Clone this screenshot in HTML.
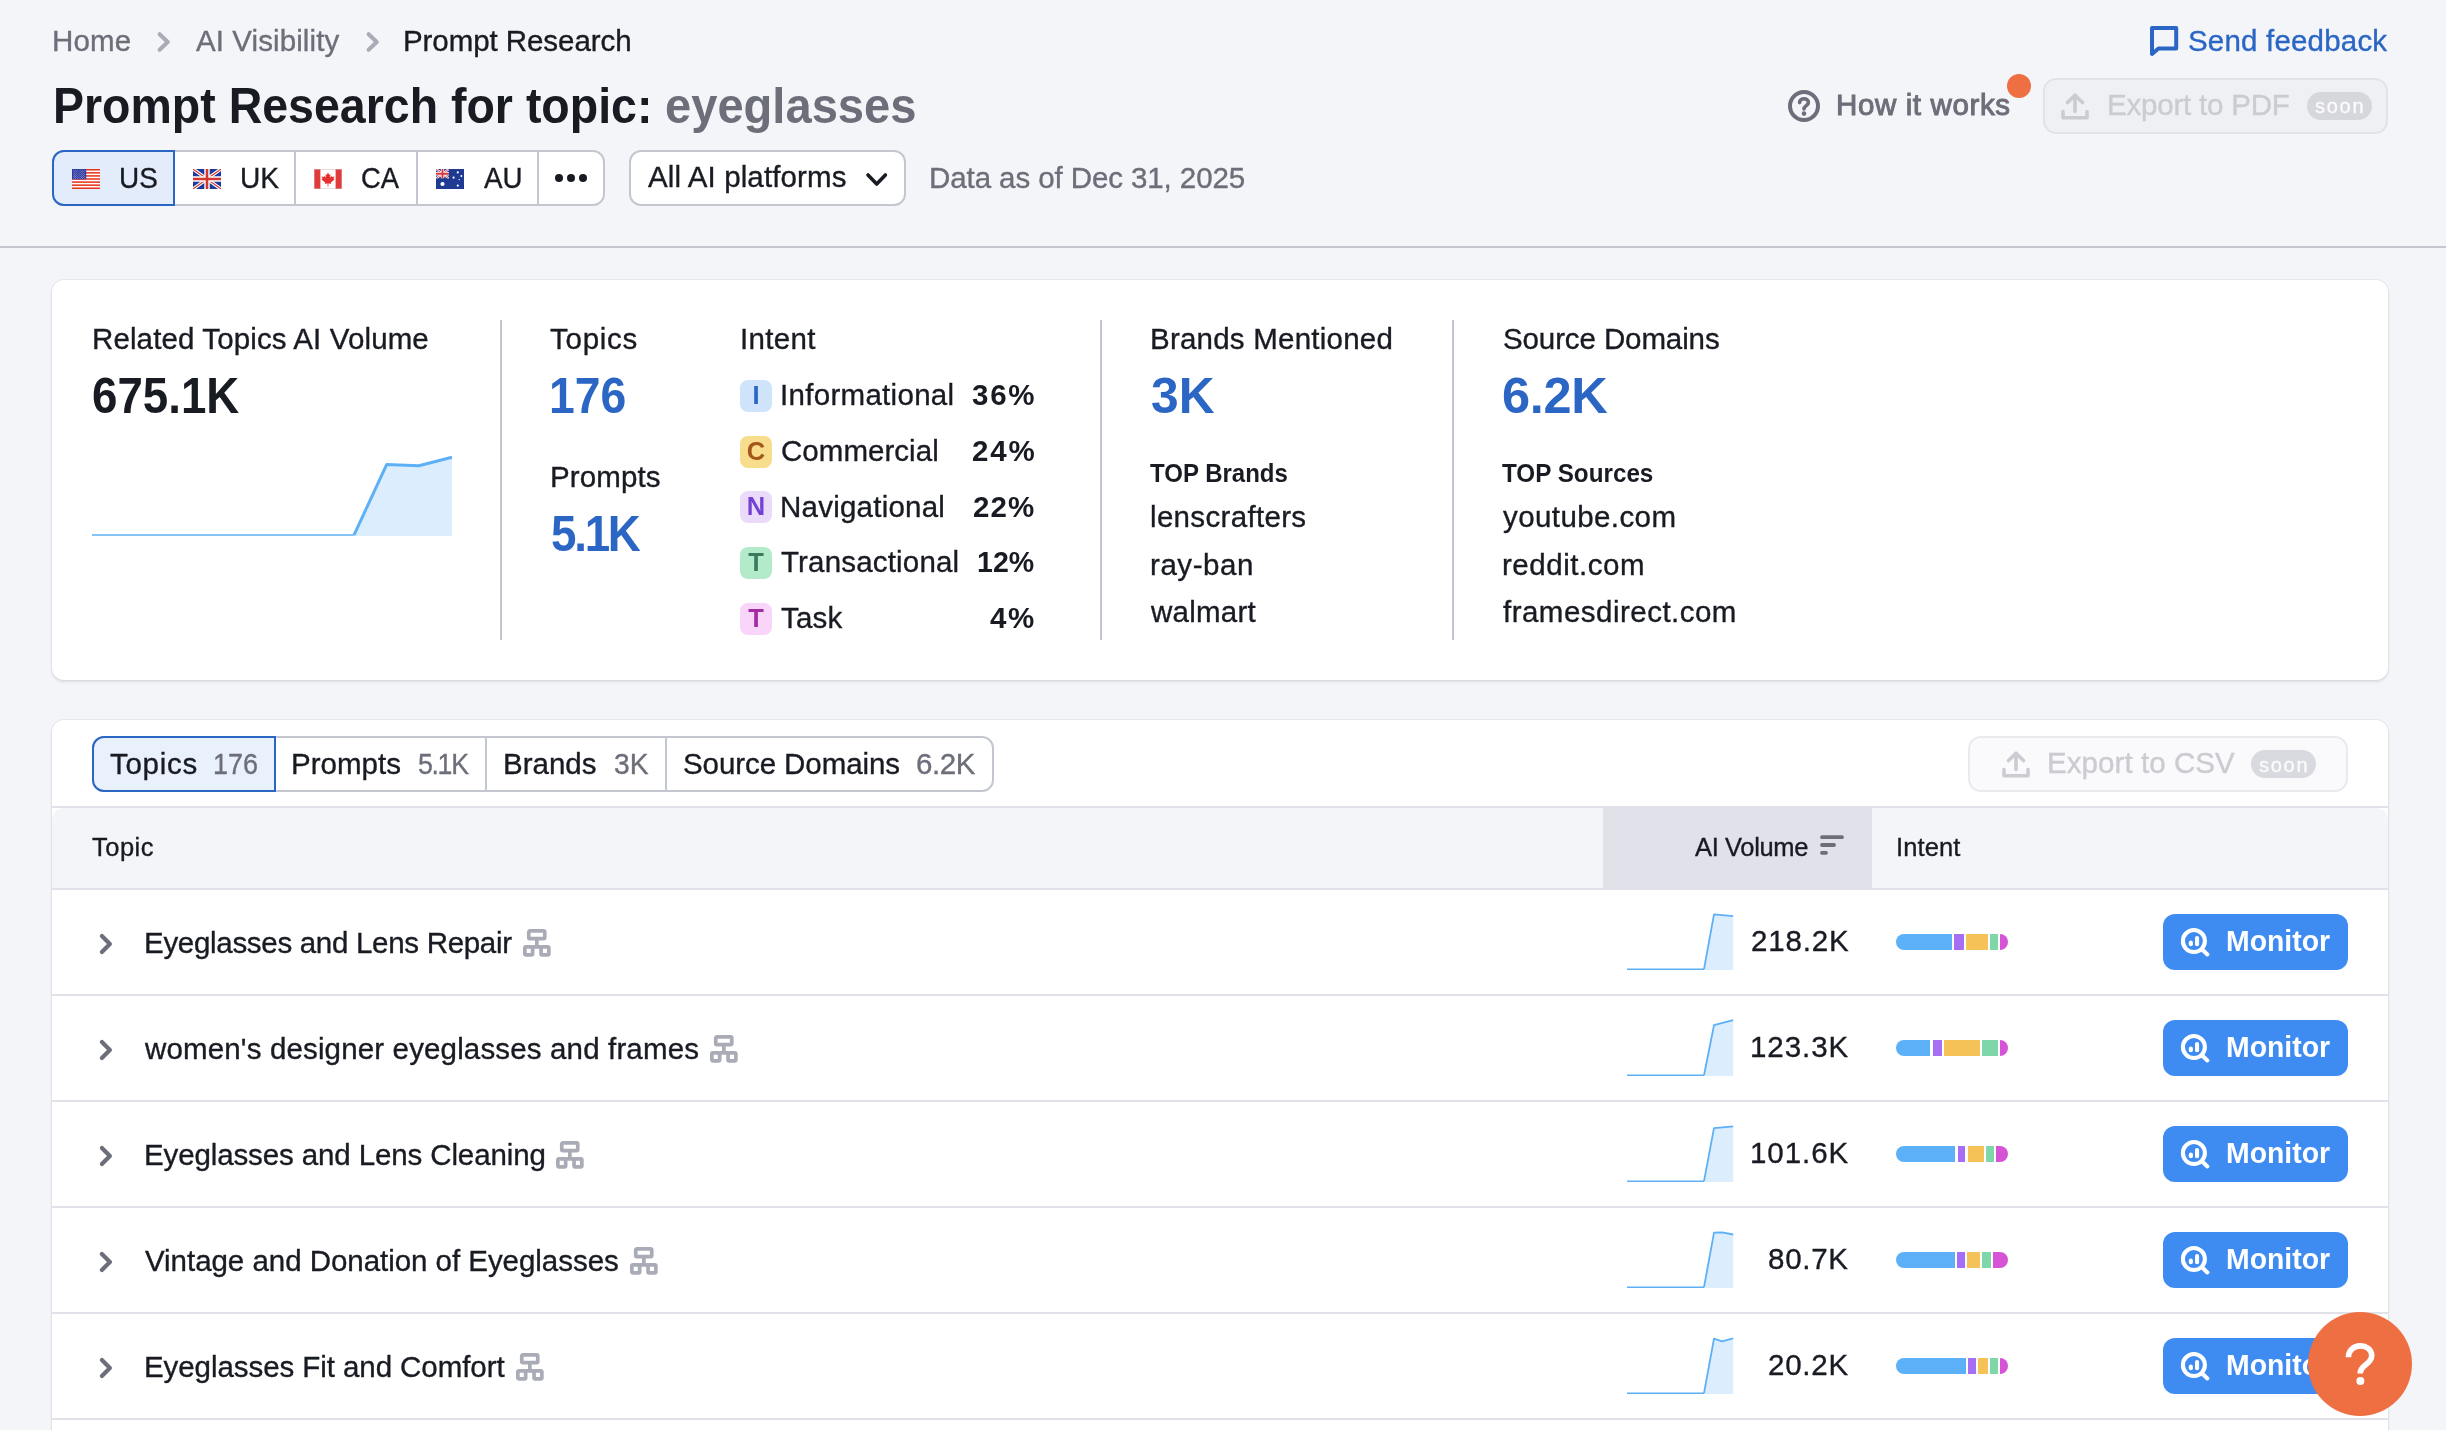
<!DOCTYPE html>
<html><head><meta charset="utf-8"><title>Prompt Research</title>
<style>
*{box-sizing:border-box;margin:0;padding:0}
html,body{width:2446px;height:1430px;overflow:hidden;background:#f4f5f9;font-family:"Liberation Sans",sans-serif;color:#191b23}
.t{position:absolute;white-space:pre}
.b{font-weight:bold}
.a{position:absolute}
.card{position:absolute;left:52px;width:2336px;background:#fff;border-radius:12px;box-shadow:0 0 0 1px rgba(200,203,215,.35),0 2px 3px rgba(25,27,35,.10)}
.vd{position:absolute;width:2px;background:#c4c7cf;top:320px;height:320px}
.ib{position:absolute;left:740px;width:32px;height:32px;border-radius:8px;font-size:25.5px;font-weight:bold;text-align:center;line-height:31px}
.rb{position:absolute;left:52px;width:2336px;height:2px;background:#e0e1e9}
.mon{position:absolute;left:2163px;width:185px;height:56px;background:#3e8cf1;border-radius:12px}
.sg{position:absolute;height:16px}
svg{position:absolute;overflow:visible}
</style></head><body>
<div style="position:absolute;left:0;top:0;width:2446px;height:1430px;overflow:hidden;will-change:transform">
<div class="a" style="left:0;top:0;width:2446px;height:246px;background:#f4f5f9"></div>
<div class="a" style="left:0;top:246px;width:2446px;height:2px;background:#c4c7cf"></div>
<svg style="left:156.5px;top:32px" width="14" height="20" viewBox="0 0 14 20"><path d="M2.6 2.2 L10.8 10 L2.6 17.8" fill="none" stroke="#a9abb6" stroke-width="4" stroke-linecap="round" stroke-linejoin="round"/></svg>
<svg style="left:366px;top:32px" width="14" height="20" viewBox="0 0 14 20"><path d="M2.6 2.2 L10.8 10 L2.6 17.8" fill="none" stroke="#a9abb6" stroke-width="4" stroke-linecap="round" stroke-linejoin="round"/></svg>
<svg style="left:2150px;top:26px" width="29" height="31" viewBox="0 0 29 31"><path d="M2 2 H26.2 V22.5 H8.5 L2 28 Z" fill="none" stroke="#2b66c4" stroke-width="4" stroke-linejoin="round"/></svg>
<svg style="left:1787px;top:89px" width="34" height="34" viewBox="0 0 34 34"><circle cx="17" cy="17" r="14" fill="none" stroke="#6c6e79" stroke-width="4"/><path d="M12.6 13.6 C12.6 8.6 21.4 8.6 21.4 13.4 C21.4 16.6 17 16.6 17 20" fill="none" stroke="#6c6e79" stroke-width="3.6" stroke-linecap="round"/><circle cx="17" cy="24.6" r="2.3" fill="#6c6e79"/></svg>
<div class="a" style="left:2007px;top:74px;width:24px;height:24px;border-radius:12px;background:#ee6f42"></div>
<div class="a" style="left:2043px;top:78px;width:345px;height:56px;border:2px solid #e2e3e9;background:#eff0f4;border-radius:13px"></div>
<svg style="left:2061px;top:93px" width="28" height="27" viewBox="0 0 28 27"><path d="M14 18.5 V3 M6.5 9.5 L14 2.2 L21.5 9.5 M2 18.5 V24.8 H26 V18.5" fill="none" stroke="#cbccd2" stroke-width="3.6" stroke-linejoin="round" stroke-linecap="round"/></svg>
<div class="a" style="left:2307px;top:92px;width:65px;height:28px;border-radius:14px;background:#d6d7dd"></div>
<div class="a" style="left:52px;top:150px;width:553px;height:56px;border:2px solid #c4c7cf;background:#fff;border-radius:12px"></div>
<div class="a" style="left:294px;top:150px;width:2px;height:56px;background:#c4c7cf"></div>
<div class="a" style="left:416px;top:150px;width:2px;height:56px;background:#c4c7cf"></div>
<div class="a" style="left:537px;top:150px;width:2px;height:56px;background:#c4c7cf"></div>
<div class="a" style="left:52px;top:150px;width:123px;height:56px;border:2px solid #2b66c4;background:#e3ecfa;border-radius:12px 0 0 12px"></div>
<div class="a" style="left:555px;top:174px;width:8px;height:8px;border-radius:4px;background:#191b23"></div>
<div class="a" style="left:567px;top:174px;width:8px;height:8px;border-radius:4px;background:#191b23"></div>
<div class="a" style="left:579px;top:174px;width:8px;height:8px;border-radius:4px;background:#191b23"></div>
<svg style="left:72px;top:169px" width="28" height="20" viewBox="0 0 28 20"><rect width="28" height="20" fill="#fff"/><g fill="#e8351d"><rect y="0.00" width="28" height="1.54"/><rect y="3.08" width="28" height="1.54"/><rect y="6.15" width="28" height="1.54"/><rect y="9.23" width="28" height="1.54"/><rect y="12.31" width="28" height="1.54"/><rect y="15.38" width="28" height="1.54"/><rect y="18.46" width="28" height="1.54"/></g><rect width="14.2" height="10.3" fill="#2c379e"/><g fill="#dfe2f6"><circle cx="1.30" cy="1.05" r=".42"/><circle cx="3.60" cy="1.05" r=".42"/><circle cx="5.90" cy="1.05" r=".42"/><circle cx="8.20" cy="1.05" r=".42"/><circle cx="10.50" cy="1.05" r=".42"/><circle cx="12.80" cy="1.05" r=".42"/><circle cx="2.45" cy="2.08" r=".42"/><circle cx="4.75" cy="2.08" r=".42"/><circle cx="7.05" cy="2.08" r=".42"/><circle cx="9.35" cy="2.08" r=".42"/><circle cx="11.65" cy="2.08" r=".42"/><circle cx="1.30" cy="3.11" r=".42"/><circle cx="3.60" cy="3.11" r=".42"/><circle cx="5.90" cy="3.11" r=".42"/><circle cx="8.20" cy="3.11" r=".42"/><circle cx="10.50" cy="3.11" r=".42"/><circle cx="12.80" cy="3.11" r=".42"/><circle cx="2.45" cy="4.14" r=".42"/><circle cx="4.75" cy="4.14" r=".42"/><circle cx="7.05" cy="4.14" r=".42"/><circle cx="9.35" cy="4.14" r=".42"/><circle cx="11.65" cy="4.14" r=".42"/><circle cx="1.30" cy="5.17" r=".42"/><circle cx="3.60" cy="5.17" r=".42"/><circle cx="5.90" cy="5.17" r=".42"/><circle cx="8.20" cy="5.17" r=".42"/><circle cx="10.50" cy="5.17" r=".42"/><circle cx="12.80" cy="5.17" r=".42"/><circle cx="2.45" cy="6.20" r=".42"/><circle cx="4.75" cy="6.20" r=".42"/><circle cx="7.05" cy="6.20" r=".42"/><circle cx="9.35" cy="6.20" r=".42"/><circle cx="11.65" cy="6.20" r=".42"/><circle cx="1.30" cy="7.23" r=".42"/><circle cx="3.60" cy="7.23" r=".42"/><circle cx="5.90" cy="7.23" r=".42"/><circle cx="8.20" cy="7.23" r=".42"/><circle cx="10.50" cy="7.23" r=".42"/><circle cx="12.80" cy="7.23" r=".42"/><circle cx="2.45" cy="8.26" r=".42"/><circle cx="4.75" cy="8.26" r=".42"/><circle cx="7.05" cy="8.26" r=".42"/><circle cx="9.35" cy="8.26" r=".42"/><circle cx="11.65" cy="8.26" r=".42"/><circle cx="1.30" cy="9.29" r=".42"/><circle cx="3.60" cy="9.29" r=".42"/><circle cx="5.90" cy="9.29" r=".42"/><circle cx="8.20" cy="9.29" r=".42"/><circle cx="10.50" cy="9.29" r=".42"/><circle cx="12.80" cy="9.29" r=".42"/></g></svg>
<svg style="left:193px;top:169px" width="28" height="20" viewBox="0 0 28 20"><clipPath id="uk"><rect width="28" height="20"/></clipPath><g clip-path="url(#uk)"><rect width="28" height="20" fill="#1b3a9c"/><path d="M0 0 L28 20 M28 0 L0 20" stroke="#fff" stroke-width="3.4"/><path d="M0 0 L28 20 M28 0 L0 20" stroke="#d5352f" stroke-width="1.1"/><path d="M14 0 V20 M0 10 H28" stroke="#fff" stroke-width="5.4"/><path d="M14 0 V20 M0 10 H28" stroke="#d5352f" stroke-width="2.6"/></g></svg>
<svg style="left:314px;top:169px" width="28" height="20" viewBox="0 0 28 20"><rect width="28" height="20" fill="#fff"/><rect width="6.4" height="20" fill="#e03a3a"/><rect x="21.6" width="6.4" height="20" fill="#e03a3a"/><rect x=".25" y=".25" width="27.5" height="19.5" fill="none" stroke="#d9b9b9" stroke-width=".5"/><path d="M14 3.4 L15.2 5.8 L16.5 5.2 L16 8.6 L17.8 7 L18.2 8 L20.4 7.6 L19.6 10 L20.5 10.6 L16.8 13.6 L17.2 14.8 L14.4 14.4 L14.4 17.4 H13.6 L13.6 14.4 L10.8 14.8 L11.2 13.6 L7.5 10.6 L8.4 10 L7.6 7.6 L9.8 8 L10.2 7 L12 8.6 L11.5 5.2 L12.8 5.8 Z" fill="#e6302f"/></svg>
<svg style="left:436px;top:169px" width="28" height="20" viewBox="0 0 28 20"><clipPath id="au"><rect width="13" height="9.6"/></clipPath><rect width="28" height="20" fill="#1f3a93"/><g clip-path="url(#au)"><path d="M0 0 L13 9.6 M13 0 L0 9.6" stroke="#fff" stroke-width="2.2"/><path d="M0 0 L13 9.6 M13 0 L0 9.6" stroke="#d8383a" stroke-width=".8"/><path d="M6.5 0 V9.6 M0 4.8 H13" stroke="#fff" stroke-width="3.4"/><path d="M6.5 0 V9.6 M0 4.8 H13" stroke="#d8383a" stroke-width="1.9"/></g><g fill="#fff"><circle cx="6.5" cy="15" r="2.1"/><circle cx="21.8" cy="3.4" r="1.1"/><circle cx="25.4" cy="7" r="1"/><circle cx="17.6" cy="8.6" r="1.1"/><circle cx="23.2" cy="10.6" r=".7"/><circle cx="21.8" cy="16.6" r="1.1"/></g></svg>
<div class="a" style="left:629px;top:150px;width:277px;height:56px;border:2px solid #c4c7cf;background:#fff;border-radius:12px"></div>
<svg style="left:866px;top:172px" width="22" height="16" viewBox="0 0 22 16"><path d="M2 3 L10.7 12 L19.4 3" fill="none" stroke="#191b23" stroke-width="3.6" stroke-linecap="round" stroke-linejoin="round"/></svg>
<div class="card" style="top:280px;height:400px"></div>
<svg style="left:92px;top:450px" width="362" height="90" viewBox="92 450 362 90"><path d="M354.5 535.5 L386.6 464.5 L418.9 465.6 L452 457 V536 H354 Z" fill="#dceefd"/><path d="M92 535 H354" stroke="#5db0f6" stroke-width="1.6" fill="none"/><path d="M354 535.2 L386.6 464.6 L418.9 465.8 L452 457.2" stroke="#5db0f6" stroke-width="3" fill="none" stroke-linejoin="round"/></svg>
<div class="vd" style="left:500px"></div>
<div class="vd" style="left:1100px"></div>
<div class="vd" style="left:1452px"></div>
<div class="ib" style="top:380px;background:#cfe3fb;color:#2b66c4">I</div>
<div class="ib" style="top:436px;background:#f8dd8d;color:#a4561b">C</div>
<div class="ib" style="top:491px;background:#eadbfb;color:#7342d3">N</div>
<div class="ib" style="top:547px;background:#b3ebca;color:#3a7a5f">T</div>
<div class="ib" style="top:603px;background:#f9d5f9;color:#a32ba3">T</div>
<div class="card" style="top:720px;height:760px"></div>
<div class="a" style="left:92px;top:736px;width:902px;height:56px;border:2px solid #c4c7cf;background:#fff;border-radius:12px"></div>
<div class="a" style="left:485px;top:736px;width:2px;height:56px;background:#c4c7cf"></div>
<div class="a" style="left:665px;top:736px;width:2px;height:56px;background:#c4c7cf"></div>
<div class="a" style="left:92px;top:736px;width:184px;height:56px;border:2px solid #2b66c4;background:#e9f1fd;border-radius:12px 0 0 12px"></div>
<div class="a" style="left:1968px;top:736px;width:380px;height:56px;border:2px solid #e9eaee;background:#fafafc;border-radius:13px"></div>
<svg style="left:2002px;top:751px" width="28" height="27" viewBox="0 0 28 27"><path d="M14 18.5 V3 M6.5 9.5 L14 2.2 L21.5 9.5 M2 18.5 V24.8 H26 V18.5" fill="none" stroke="#cbccd2" stroke-width="3.6" stroke-linejoin="round" stroke-linecap="round"/></svg>
<div class="a" style="left:2251px;top:750px;width:65px;height:28px;border-radius:14px;background:#d9dadf"></div>
<div class="rb" style="top:806px"></div>
<div class="a" style="left:52px;top:808px;width:2336px;height:80px;background:#f4f5f9;border-radius:12px 12px 0 0"></div>
<div class="a" style="left:1603px;top:806px;width:269px;height:82px;background:#e0e1e9"></div>
<svg style="left:1820px;top:835px" width="24" height="20" viewBox="0 0 24 20"><path d="M2 2.2 H22 M2 10 H14 M2 17.8 H6" stroke="#6c6e79" stroke-width="3.8" stroke-linecap="round"/></svg>
<div class="rb" style="top:888px"></div>
<div class="rb" style="top:994px"></div>
<svg style="left:99px;top:934px" width="15" height="22" viewBox="0 0 15 22"><path d="M2.9 2.1 L10.9 10.1 L2.9 18.1" fill="none" stroke="#6c6e79" stroke-width="4.2" stroke-linecap="round" stroke-linejoin="round"/></svg>
<svg style="left:523px;top:929px" width="28" height="28" viewBox="0 0 28 28"><g fill="none" stroke="#a9abb6" stroke-width="3.7" stroke-linejoin="round"><rect x="5.75" y="1.85" width="16" height="7.8" rx="1.2"/><rect x="1.85" y="17.8" width="7.8" height="8.05" rx="1.2"/><rect x="18.05" y="17.8" width="7.8" height="8.05" rx="1.2"/><path d="M13.85 9.65 V17.8 M9.65 17.8 H18.05"/></g></svg>
<svg style="left:1626px;top:912px" width="110" height="60" viewBox="1626 912 110 60"><path d="M1704 969.2 L1714 914.4 L1733.2 916.1 V970.0 H1704 Z" fill="#dceefd"/><path d="M1627 969.2 H1704" stroke="#5db0f6" stroke-width="1.4" fill="none"/><path d="M1704 969.2 L1714 914.4 L1733.2 916.1" stroke="#5db0f6" stroke-width="1.8" fill="none" stroke-linejoin="round"/></svg>
<div class="sg" style="left:1896px;top:934px;width:56.0px;background:#5bb0f8;border-radius:8px 0 0 8px"></div>
<div class="sg" style="left:1954.4px;top:934px;width:9.4px;background:#a56ef4;border-radius:0"></div>
<div class="sg" style="left:1966.1px;top:934px;width:21.8px;background:#f5c257;border-radius:0"></div>
<div class="sg" style="left:1990.3px;top:934px;width:7.7px;background:#7fd6a8;border-radius:0"></div>
<div class="sg" style="left:2000px;top:934px;width:8.0px;background:#d653d6;border-radius:0 8px 8px 0"></div>
<div class="mon" style="top:914px"></div>
<svg style="left:2180px;top:927px" width="30" height="30" viewBox="0 0 30 30"><circle cx="13.9" cy="14.05" r="11" fill="none" stroke="#fff" stroke-width="4.1"/><path d="M22.2 22.6 L27.4 27.4" stroke="#fff" stroke-width="4.1" stroke-linecap="round"/><rect x="8.8" y="13.4" width="4.1" height="5.9" rx="2" fill="#fff"/><rect x="15" y="8.9" width="4.1" height="10.4" rx="2" fill="#fff"/></svg>
<div class="rb" style="top:1100px"></div>
<svg style="left:99px;top:1040px" width="15" height="22" viewBox="0 0 15 22"><path d="M2.9 2.1 L10.9 10.1 L2.9 18.1" fill="none" stroke="#6c6e79" stroke-width="4.2" stroke-linecap="round" stroke-linejoin="round"/></svg>
<svg style="left:710px;top:1035px" width="28" height="28" viewBox="0 0 28 28"><g fill="none" stroke="#a9abb6" stroke-width="3.7" stroke-linejoin="round"><rect x="5.75" y="1.85" width="16" height="7.8" rx="1.2"/><rect x="1.85" y="17.8" width="7.8" height="8.05" rx="1.2"/><rect x="18.05" y="17.8" width="7.8" height="8.05" rx="1.2"/><path d="M13.85 9.65 V17.8 M9.65 17.8 H18.05"/></g></svg>
<svg style="left:1626px;top:1018px" width="110" height="60" viewBox="1626 1018 110 60"><path d="M1704 1075.2 L1714 1025.2 L1733.2 1020.2 V1076.0 H1704 Z" fill="#dceefd"/><path d="M1627 1075.2 H1704" stroke="#5db0f6" stroke-width="1.4" fill="none"/><path d="M1704 1075.2 L1714 1025.2 L1733.2 1020.2" stroke="#5db0f6" stroke-width="1.8" fill="none" stroke-linejoin="round"/></svg>
<div class="sg" style="left:1896px;top:1040px;width:34.3px;background:#5bb0f8;border-radius:8px 0 0 8px"></div>
<div class="sg" style="left:1932.6px;top:1040px;width:9.4px;background:#a56ef4;border-radius:0"></div>
<div class="sg" style="left:1944.3px;top:1040px;width:35.6px;background:#f5c257;border-radius:0"></div>
<div class="sg" style="left:1982.2px;top:1040px;width:15.8px;background:#7fd6a8;border-radius:0"></div>
<div class="sg" style="left:2000px;top:1040px;width:8.0px;background:#d653d6;border-radius:0 8px 8px 0"></div>
<div class="mon" style="top:1020px"></div>
<svg style="left:2180px;top:1033px" width="30" height="30" viewBox="0 0 30 30"><circle cx="13.9" cy="14.05" r="11" fill="none" stroke="#fff" stroke-width="4.1"/><path d="M22.2 22.6 L27.4 27.4" stroke="#fff" stroke-width="4.1" stroke-linecap="round"/><rect x="8.8" y="13.4" width="4.1" height="5.9" rx="2" fill="#fff"/><rect x="15" y="8.9" width="4.1" height="10.4" rx="2" fill="#fff"/></svg>
<div class="rb" style="top:1206px"></div>
<svg style="left:99px;top:1146px" width="15" height="22" viewBox="0 0 15 22"><path d="M2.9 2.1 L10.9 10.1 L2.9 18.1" fill="none" stroke="#6c6e79" stroke-width="4.2" stroke-linecap="round" stroke-linejoin="round"/></svg>
<svg style="left:556px;top:1141px" width="28" height="28" viewBox="0 0 28 28"><g fill="none" stroke="#a9abb6" stroke-width="3.7" stroke-linejoin="round"><rect x="5.75" y="1.85" width="16" height="7.8" rx="1.2"/><rect x="1.85" y="17.8" width="7.8" height="8.05" rx="1.2"/><rect x="18.05" y="17.8" width="7.8" height="8.05" rx="1.2"/><path d="M13.85 9.65 V17.8 M9.65 17.8 H18.05"/></g></svg>
<svg style="left:1626px;top:1124px" width="110" height="60" viewBox="1626 1124 110 60"><path d="M1704 1181.2 L1714 1128.1 L1733.2 1126.4 V1182.0 H1704 Z" fill="#dceefd"/><path d="M1627 1181.2 H1704" stroke="#5db0f6" stroke-width="1.4" fill="none"/><path d="M1704 1181.2 L1714 1128.1 L1733.2 1126.4" stroke="#5db0f6" stroke-width="1.8" fill="none" stroke-linejoin="round"/></svg>
<div class="sg" style="left:1896px;top:1146px;width:59.4px;background:#5bb0f8;border-radius:8px 0 0 8px"></div>
<div class="sg" style="left:1957.8px;top:1146px;width:7.7px;background:#a56ef4;border-radius:0"></div>
<div class="sg" style="left:1967.8px;top:1146px;width:16.1px;background:#f5c257;border-radius:0"></div>
<div class="sg" style="left:1986.2px;top:1146px;width:7.8px;background:#7fd6a8;border-radius:0"></div>
<div class="sg" style="left:1996px;top:1146px;width:12.0px;background:#d653d6;border-radius:0 8px 8px 0"></div>
<div class="mon" style="top:1126px"></div>
<svg style="left:2180px;top:1139px" width="30" height="30" viewBox="0 0 30 30"><circle cx="13.9" cy="14.05" r="11" fill="none" stroke="#fff" stroke-width="4.1"/><path d="M22.2 22.6 L27.4 27.4" stroke="#fff" stroke-width="4.1" stroke-linecap="round"/><rect x="8.8" y="13.4" width="4.1" height="5.9" rx="2" fill="#fff"/><rect x="15" y="8.9" width="4.1" height="10.4" rx="2" fill="#fff"/></svg>
<div class="rb" style="top:1312px"></div>
<svg style="left:99px;top:1252px" width="15" height="22" viewBox="0 0 15 22"><path d="M2.9 2.1 L10.9 10.1 L2.9 18.1" fill="none" stroke="#6c6e79" stroke-width="4.2" stroke-linecap="round" stroke-linejoin="round"/></svg>
<svg style="left:630px;top:1247px" width="28" height="28" viewBox="0 0 28 28"><g fill="none" stroke="#a9abb6" stroke-width="3.7" stroke-linejoin="round"><rect x="5.75" y="1.85" width="16" height="7.8" rx="1.2"/><rect x="1.85" y="17.8" width="7.8" height="8.05" rx="1.2"/><rect x="18.05" y="17.8" width="7.8" height="8.05" rx="1.2"/><path d="M13.85 9.65 V17.8 M9.65 17.8 H18.05"/></g></svg>
<svg style="left:1626px;top:1230px" width="110" height="60" viewBox="1626 1230 110 60"><path d="M1704 1287.2 L1714 1232.7 L1722 1232.4 L1733.2 1234.5 V1288.0 H1704 Z" fill="#dceefd"/><path d="M1627 1287.2 H1704" stroke="#5db0f6" stroke-width="1.4" fill="none"/><path d="M1704 1287.2 L1714 1232.7 L1722 1232.4 L1733.2 1234.5" stroke="#5db0f6" stroke-width="1.8" fill="none" stroke-linejoin="round"/></svg>
<div class="sg" style="left:1896px;top:1252px;width:58.6px;background:#5bb0f8;border-radius:8px 0 0 8px"></div>
<div class="sg" style="left:1957px;top:1252px;width:7.9px;background:#a56ef4;border-radius:0"></div>
<div class="sg" style="left:1967px;top:1252px;width:13.1px;background:#f5c257;border-radius:0"></div>
<div class="sg" style="left:1982.3px;top:1252px;width:8.5px;background:#7fd6a8;border-radius:0"></div>
<div class="sg" style="left:1993px;top:1252px;width:15.0px;background:#d653d6;border-radius:0 8px 8px 0"></div>
<div class="mon" style="top:1232px"></div>
<svg style="left:2180px;top:1245px" width="30" height="30" viewBox="0 0 30 30"><circle cx="13.9" cy="14.05" r="11" fill="none" stroke="#fff" stroke-width="4.1"/><path d="M22.2 22.6 L27.4 27.4" stroke="#fff" stroke-width="4.1" stroke-linecap="round"/><rect x="8.8" y="13.4" width="4.1" height="5.9" rx="2" fill="#fff"/><rect x="15" y="8.9" width="4.1" height="10.4" rx="2" fill="#fff"/></svg>
<div class="rb" style="top:1418px"></div>
<svg style="left:99px;top:1358px" width="15" height="22" viewBox="0 0 15 22"><path d="M2.9 2.1 L10.9 10.1 L2.9 18.1" fill="none" stroke="#6c6e79" stroke-width="4.2" stroke-linecap="round" stroke-linejoin="round"/></svg>
<svg style="left:516px;top:1353px" width="28" height="28" viewBox="0 0 28 28"><g fill="none" stroke="#a9abb6" stroke-width="3.7" stroke-linejoin="round"><rect x="5.75" y="1.85" width="16" height="7.8" rx="1.2"/><rect x="1.85" y="17.8" width="7.8" height="8.05" rx="1.2"/><rect x="18.05" y="17.8" width="7.8" height="8.05" rx="1.2"/><path d="M13.85 9.65 V17.8 M9.65 17.8 H18.05"/></g></svg>
<svg style="left:1626px;top:1336px" width="110" height="60" viewBox="1626 1336 110 60"><path d="M1704 1393.2 L1714 1338.7 L1722 1341.4 L1733.2 1338.4 V1394.0 H1704 Z" fill="#dceefd"/><path d="M1627 1393.2 H1704" stroke="#5db0f6" stroke-width="1.4" fill="none"/><path d="M1704 1393.2 L1714 1338.7 L1722 1341.4 L1733.2 1338.4" stroke="#5db0f6" stroke-width="1.8" fill="none" stroke-linejoin="round"/></svg>
<div class="sg" style="left:1896px;top:1358px;width:70.0px;background:#5bb0f8;border-radius:8px 0 0 8px"></div>
<div class="sg" style="left:1968.1px;top:1358px;width:7.8px;background:#a56ef4;border-radius:0"></div>
<div class="sg" style="left:1978px;top:1358px;width:9.9px;background:#f5c257;border-radius:0"></div>
<div class="sg" style="left:1990px;top:1358px;width:8.2px;background:#7fd6a8;border-radius:0"></div>
<div class="sg" style="left:2000.3px;top:1358px;width:7.7px;background:#d653d6;border-radius:0 8px 8px 0"></div>
<div class="mon" style="top:1338px"></div>
<svg style="left:2180px;top:1351px" width="30" height="30" viewBox="0 0 30 30"><circle cx="13.9" cy="14.05" r="11" fill="none" stroke="#fff" stroke-width="4.1"/><path d="M22.2 22.6 L27.4 27.4" stroke="#fff" stroke-width="4.1" stroke-linecap="round"/><rect x="8.8" y="13.4" width="4.1" height="5.9" rx="2" fill="#fff"/><rect x="15" y="8.9" width="4.1" height="10.4" rx="2" fill="#fff"/></svg>
<div class="t" style="left:52px;top:26px;font-size:29.5px;line-height:29.5px;color:#6c6e79;letter-spacing:0.16px;-webkit-text-stroke:0.35px #6c6e79;">Home</div>
<div class="t" style="left:196px;top:26px;font-size:29.5px;line-height:29.5px;color:#6c6e79;letter-spacing:0.09px;-webkit-text-stroke:0.35px #6c6e79;">AI Visibility</div>
<div class="t" style="left:403px;top:26px;font-size:29.5px;line-height:29.5px;color:#191b23;letter-spacing:-0.07px;-webkit-text-stroke:0.35px #191b23;">Prompt Research</div>
<div class="t b" style="left:53px;top:81px;font-size:50.5px;line-height:50.5px;color:#191b23;transform:scaleX(0.9208);transform-origin:0 0;">Prompt Research for topic:</div>
<div class="t b" style="left:665px;top:81px;font-size:50.5px;line-height:50.5px;color:#6c6e79;transform:scaleX(0.9327);transform-origin:0 0;">eyeglasses</div>
<div class="t" style="left:2188px;top:26px;font-size:29.5px;line-height:29.5px;color:#2b66c4;letter-spacing:0.19px;-webkit-text-stroke:0.35px #2b66c4;">Send feedback</div>
<div class="t" style="left:1836px;top:90px;font-size:29.5px;line-height:29.5px;color:#6c6e79;letter-spacing:0.62px;-webkit-text-stroke:1.0px #6c6e79;">How it works</div>
<div class="t" style="left:2107px;top:90px;font-size:29.5px;line-height:29.5px;color:#cbccd2;letter-spacing:-0.2px;-webkit-text-stroke:0.4px #cbccd2;">Export to PDF</div>
<div class="t" style="left:2315px;top:96px;font-size:20.0px;line-height:20.0px;color:#fbfbfc;letter-spacing:1.74px;-webkit-text-stroke:0.3px #fbfbfc;">soon</div>
<div class="t" style="left:119px;top:163px;font-size:29.5px;line-height:29.5px;color:#191b23;transform:scaleX(0.9463);transform-origin:0 0;-webkit-text-stroke:0.35px #191b23;">US</div>
<div class="t" style="left:240px;top:163px;font-size:29.5px;line-height:29.5px;color:#191b23;transform:scaleX(0.9534);transform-origin:0 0;-webkit-text-stroke:0.35px #191b23;">UK</div>
<div class="t" style="left:361px;top:163px;font-size:29.5px;line-height:29.5px;color:#191b23;transform:scaleX(0.9264);transform-origin:0 0;-webkit-text-stroke:0.35px #191b23;">CA</div>
<div class="t" style="left:484px;top:163px;font-size:29.5px;line-height:29.5px;color:#191b23;transform:scaleX(0.9397);transform-origin:0 0;-webkit-text-stroke:0.35px #191b23;">AU</div>
<div class="t" style="left:648px;top:162px;font-size:29.5px;line-height:29.5px;color:#191b23;letter-spacing:0.11px;-webkit-text-stroke:0.35px #191b23;">All AI platforms</div>
<div class="t" style="left:929px;top:163px;font-size:29.5px;line-height:29.5px;color:#6c6e79;letter-spacing:-0.09px;-webkit-text-stroke:0.35px #6c6e79;">Data as of Dec 31, 2025</div>
<div class="t" style="left:92px;top:324px;font-size:29.5px;line-height:29.5px;color:#191b23;letter-spacing:0.12px;-webkit-text-stroke:0.35px #191b23;">Related Topics AI Volume</div>
<div class="t b" style="left:92px;top:371px;font-size:50.5px;line-height:50.5px;color:#191b23;transform:scaleX(0.9047);transform-origin:0 0;">675.1K</div>
<div class="t" style="left:550px;top:324px;font-size:29.5px;line-height:29.5px;color:#191b23;letter-spacing:0.75px;-webkit-text-stroke:0.35px #191b23;">Topics</div>
<div class="t b" style="left:549px;top:371px;font-size:50.5px;line-height:50.5px;color:#2b66c4;transform:scaleX(0.9172);transform-origin:0 0;">176</div>
<div class="t" style="left:550px;top:462px;font-size:29.5px;line-height:29.5px;color:#191b23;letter-spacing:0.1px;-webkit-text-stroke:0.35px #191b23;">Prompts</div>
<div class="t b" style="left:551px;top:509px;font-size:50.5px;line-height:50.5px;color:#2b66c4;letter-spacing:-2.49px;transform:scaleX(0.9056);transform-origin:0 0;">5.1K</div>
<div class="t" style="left:740px;top:324px;font-size:29.5px;line-height:29.5px;color:#191b23;letter-spacing:0.33px;-webkit-text-stroke:0.35px #191b23;">Intent</div>
<div class="t" style="left:780px;top:380px;font-size:29.5px;line-height:29.5px;color:#191b23;letter-spacing:0.3px;-webkit-text-stroke:0.35px #191b23;">Informational</div>
<div class="t b" style="left:972px;top:380px;font-size:29.5px;line-height:29.5px;color:#191b23;letter-spacing:1.74px;">36%</div>
<div class="t" style="left:781px;top:436px;font-size:29.5px;line-height:29.5px;color:#191b23;letter-spacing:0.04px;-webkit-text-stroke:0.35px #191b23;">Commercial</div>
<div class="t b" style="left:972px;top:436px;font-size:29.5px;line-height:29.5px;color:#191b23;letter-spacing:1.79px;">24%</div>
<div class="t" style="left:780px;top:492px;font-size:29.5px;line-height:29.5px;color:#191b23;letter-spacing:0.23px;-webkit-text-stroke:0.35px #191b23;">Navigational</div>
<div class="t b" style="left:973px;top:492px;font-size:29.5px;line-height:29.5px;color:#191b23;letter-spacing:1.14px;">22%</div>
<div class="t" style="left:781px;top:547px;font-size:29.5px;line-height:29.5px;color:#191b23;letter-spacing:0.18px;-webkit-text-stroke:0.35px #191b23;">Transactional</div>
<div class="t b" style="left:977px;top:547px;font-size:29.5px;line-height:29.5px;color:#191b23;transform:scaleX(0.9679);transform-origin:0 0;">12%</div>
<div class="t" style="left:781px;top:603px;font-size:29.5px;line-height:29.5px;color:#191b23;letter-spacing:0.19px;-webkit-text-stroke:0.35px #191b23;">Task</div>
<div class="t b" style="left:990px;top:603px;font-size:29.5px;line-height:29.5px;color:#191b23;letter-spacing:1.66px;">4%</div>
<div class="t" style="left:1150px;top:324px;font-size:29.5px;line-height:29.5px;color:#191b23;letter-spacing:0.23px;-webkit-text-stroke:0.35px #191b23;">Brands Mentioned</div>
<div class="t b" style="left:1151px;top:371px;font-size:50.5px;line-height:50.5px;color:#2b66c4;transform:scaleX(0.9837);transform-origin:0 0;">3K</div>
<div class="t b" style="left:1150px;top:461px;font-size:25.5px;line-height:25.5px;color:#191b23;transform:scaleX(0.9414);transform-origin:0 0;">TOP Brands</div>
<div class="t" style="left:1150px;top:502px;font-size:29.5px;line-height:29.5px;color:#191b23;letter-spacing:0.33px;-webkit-text-stroke:0.35px #191b23;">lenscrafters</div>
<div class="t" style="left:1150px;top:550px;font-size:29.5px;line-height:29.5px;color:#191b23;letter-spacing:0.57px;-webkit-text-stroke:0.35px #191b23;">ray-ban</div>
<div class="t" style="left:1151px;top:597px;font-size:29.5px;line-height:29.5px;color:#191b23;letter-spacing:0.23px;-webkit-text-stroke:0.35px #191b23;">walmart</div>
<div class="t" style="left:1503px;top:324px;font-size:29.5px;line-height:29.5px;color:#191b23;letter-spacing:-0.11px;-webkit-text-stroke:0.35px #191b23;">Source Domains</div>
<div class="t b" style="left:1502px;top:371px;font-size:50.5px;line-height:50.5px;color:#2b66c4;letter-spacing:-0.35px;">6.2K</div>
<div class="t b" style="left:1502px;top:461px;font-size:25.5px;line-height:25.5px;color:#191b23;transform:scaleX(0.9506);transform-origin:0 0;">TOP Sources</div>
<div class="t" style="left:1503px;top:502px;font-size:29.5px;line-height:29.5px;color:#191b23;letter-spacing:0.41px;-webkit-text-stroke:0.35px #191b23;">youtube.com</div>
<div class="t" style="left:1502px;top:550px;font-size:29.5px;line-height:29.5px;color:#191b23;letter-spacing:0.53px;-webkit-text-stroke:0.35px #191b23;">reddit.com</div>
<div class="t" style="left:1503px;top:597px;font-size:29.5px;line-height:29.5px;color:#191b23;letter-spacing:0.48px;-webkit-text-stroke:0.35px #191b23;">framesdirect.com</div>
<div class="t" style="left:110px;top:749px;font-size:29.5px;line-height:29.5px;color:#191b23;letter-spacing:0.71px;-webkit-text-stroke:0.35px #191b23;">Topics</div>
<div class="t" style="left:213px;top:749px;font-size:29.5px;line-height:29.5px;color:#6c6e79;transform:scaleX(0.9134);transform-origin:0 0;-webkit-text-stroke:0.35px #6c6e79;">176</div>
<div class="t" style="left:291px;top:749px;font-size:29.5px;line-height:29.5px;color:#191b23;letter-spacing:0.02px;-webkit-text-stroke:0.35px #191b23;">Prompts</div>
<div class="t" style="left:418px;top:749px;font-size:29.5px;line-height:29.5px;color:#6c6e79;letter-spacing:-1.47px;transform:scaleX(0.9057);transform-origin:0 0;-webkit-text-stroke:0.35px #6c6e79;">5.1K</div>
<div class="t" style="left:503px;top:749px;font-size:29.5px;line-height:29.5px;color:#191b23;letter-spacing:-0.01px;-webkit-text-stroke:0.35px #191b23;">Brands</div>
<div class="t" style="left:614px;top:749px;font-size:29.5px;line-height:29.5px;color:#6c6e79;transform:scaleX(0.9573);transform-origin:0 0;-webkit-text-stroke:0.35px #6c6e79;">3K</div>
<div class="t" style="left:683px;top:749px;font-size:29.5px;line-height:29.5px;color:#191b23;letter-spacing:-0.08px;-webkit-text-stroke:0.35px #191b23;">Source Domains</div>
<div class="t" style="left:916px;top:749px;font-size:29.5px;line-height:29.5px;color:#6c6e79;letter-spacing:-0.38px;-webkit-text-stroke:0.35px #6c6e79;">6.2K</div>
<div class="t" style="left:2047px;top:748px;font-size:29.5px;line-height:29.5px;color:#cbccd2;letter-spacing:0.07px;-webkit-text-stroke:0.4px #cbccd2;">Export to CSV</div>
<div class="t" style="left:2259px;top:755px;font-size:20.0px;line-height:20.0px;color:#fbfbfc;letter-spacing:1.74px;-webkit-text-stroke:0.3px #fbfbfc;">soon</div>
<div class="t" style="left:92px;top:835px;font-size:25.5px;line-height:25.5px;color:#191b23;letter-spacing:0.5px;-webkit-text-stroke:0.35px #191b23;">Topic</div>
<div class="t" style="left:1695px;top:835px;font-size:25.5px;line-height:25.5px;color:#191b23;letter-spacing:-0.36px;-webkit-text-stroke:0.35px #191b23;">AI Volume</div>
<div class="t" style="left:1896px;top:835px;font-size:25.5px;line-height:25.5px;color:#191b23;letter-spacing:0.11px;-webkit-text-stroke:0.35px #191b23;">Intent</div>
<div class="t" style="left:144px;top:928px;font-size:29.5px;line-height:29.5px;color:#191b23;letter-spacing:-0.3px;-webkit-text-stroke:0.35px #191b23;">Eyeglasses and Lens Repair</div>
<div class="t" style="left:1751px;top:926px;font-size:29.5px;line-height:29.5px;color:#191b23;letter-spacing:0.82px;-webkit-text-stroke:0.35px #191b23;">218.2K</div>
<div class="t b" style="left:2226px;top:926px;font-size:29.5px;line-height:29.5px;color:#ffffff;transform:scaleX(0.962);transform-origin:0 0;">Monitor</div>
<div class="t" style="left:145px;top:1034px;font-size:29.5px;line-height:29.5px;color:#191b23;letter-spacing:0.15px;-webkit-text-stroke:0.35px #191b23;">women&#x27;s designer eyeglasses and frames</div>
<div class="t" style="left:1750px;top:1032px;font-size:29.5px;line-height:29.5px;color:#191b23;letter-spacing:0.93px;-webkit-text-stroke:0.35px #191b23;">123.3K</div>
<div class="t b" style="left:2226px;top:1032px;font-size:29.5px;line-height:29.5px;color:#ffffff;transform:scaleX(0.962);transform-origin:0 0;">Monitor</div>
<div class="t" style="left:144px;top:1140px;font-size:29.5px;line-height:29.5px;color:#191b23;letter-spacing:-0.12px;-webkit-text-stroke:0.35px #191b23;">Eyeglasses and Lens Cleaning</div>
<div class="t" style="left:1750px;top:1138px;font-size:29.5px;line-height:29.5px;color:#191b23;letter-spacing:0.93px;-webkit-text-stroke:0.35px #191b23;">101.6K</div>
<div class="t b" style="left:2226px;top:1138px;font-size:29.5px;line-height:29.5px;color:#ffffff;transform:scaleX(0.962);transform-origin:0 0;">Monitor</div>
<div class="t" style="left:145px;top:1246px;font-size:29.5px;line-height:29.5px;color:#191b23;letter-spacing:-0.04px;-webkit-text-stroke:0.35px #191b23;">Vintage and Donation of Eyeglasses</div>
<div class="t" style="left:1768px;top:1244px;font-size:29.5px;line-height:29.5px;color:#191b23;letter-spacing:0.72px;-webkit-text-stroke:0.35px #191b23;">80.7K</div>
<div class="t b" style="left:2226px;top:1244px;font-size:29.5px;line-height:29.5px;color:#ffffff;transform:scaleX(0.962);transform-origin:0 0;">Monitor</div>
<div class="t" style="left:144px;top:1352px;font-size:29.5px;line-height:29.5px;color:#191b23;letter-spacing:-0.07px;-webkit-text-stroke:0.35px #191b23;">Eyeglasses Fit and Comfort</div>
<div class="t" style="left:1768px;top:1350px;font-size:29.5px;line-height:29.5px;color:#191b23;letter-spacing:0.74px;-webkit-text-stroke:0.35px #191b23;">20.2K</div>
<div class="t b" style="left:2226px;top:1350px;font-size:29.5px;line-height:29.5px;color:#ffffff;transform:scaleX(0.962);transform-origin:0 0;">Monitor</div>
<div class="a" style="left:2308px;top:1312px;width:104px;height:104px;border-radius:52px;background:#ee6f42"></div>
<svg style="left:2340px;top:1340px" width="40" height="50" viewBox="0 0 40 50"><path d="M8.4 17.2 C8.4 2.4 31.7 2.4 31.7 15.5 C31.7 25 20.2 24 20.2 33.6" fill="none" stroke="#fff" stroke-width="5.6" stroke-linecap="butt"/><circle cx="20.4" cy="41" r="4" fill="#fff"/></svg>
</div>
</body></html>
